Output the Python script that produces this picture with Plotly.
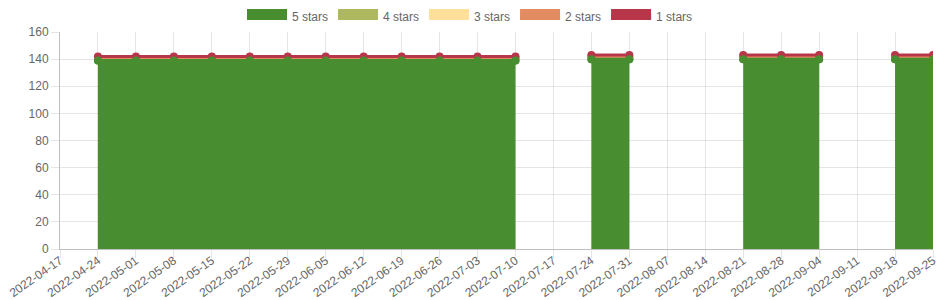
import plotly.graph_objects as go

dates = ["2022-04-17", "2022-04-24", "2022-05-01", "2022-05-08", "2022-05-15", "2022-05-22",
         "2022-05-29", "2022-06-05", "2022-06-12", "2022-06-19", "2022-06-26", "2022-07-03",
         "2022-07-10", "2022-07-17", "2022-07-24", "2022-07-31", "2022-08-07", "2022-08-14",
         "2022-08-21", "2022-08-28", "2022-09-04", "2022-09-11", "2022-09-18", "2022-09-25"]

N = None
stars5 = [N, 139, 139, 139, 139, 139, 139, 139, 139, 139, 139, 139, 139, N, 140, 140, N, N, 140, 140, 140, N, 140, 140]
stars4 = [N, 1, 1, 1, 1, 1, 1, 1, 1, 1, 1, 1, 1, N, 1, 1, N, N, 1, 1, 1, N, 1, 1]
stars3 = [N, 1, 1, 1, 1, 1, 1, 1, 1, 1, 1, 1, 1, N, 1, 1, N, N, 1, 1, 1, N, 1, 1]
stars2 = [N, 0, 0, 0, 0, 0, 0, 0, 0, 0, 0, 0, 0, N, 0, 0, N, N, 0, 0, 0, N, 0, 0]
stars1 = [N, 1, 1, 1, 1, 1, 1, 1, 1, 1, 1, 1, 1, N, 1, 1, N, N, 1, 1, 1, N, 1, 1]

series_names = ["5 stars", "4 stars", "3 stars", "2 stars", "1 stars"]
series_vals = [stars5, stars4, stars3, stars2, stars1]
colors = ["#498d31", "#adb85f", "#fee09b", "#e48c61", "#b8364a"]

# contiguous segments (index ranges) where data exists
segments = []
cur = []
for i, v in enumerate(stars5):
    if v is None:
        if cur:
            segments.append(cur)
            cur = []
    else:
        cur.append(i)
if cur:
    segments.append(cur)

fig = go.Figure()

# legend-only entries (box-like symbols)
for name, col in zip(series_names, colors):
    fig.add_trace(go.Scatter(
        x=[None], y=[None], name=name, legendgroup=name, showlegend=True,
        mode="lines", fill="tozeroy", fillcolor=col,
        line=dict(color=col, width=10), hoverinfo="skip",
    ))

for si, seg in enumerate(segments):
    for name, vals, col in zip(series_names, series_vals, colors):
        fig.add_trace(go.Scatter(
            x=[dates[i] for i in seg],
            y=[vals[i] for i in seg],
            name=name,
            legendgroup=name,
            showlegend=False,
            stackgroup=f"seg{si}",
            mode="lines+markers",
            line=dict(color=col, width=3),
            marker=dict(color=col, size=8),
            fillcolor=col,
            hoverinfo="skip",
        ))
    # first series drawn on top (as in the reference)
    fig.add_trace(go.Scatter(
        x=[dates[i] for i in seg],
        y=[stars5[i] for i in seg],
        name="5 stars", legendgroup="5 stars", showlegend=False,
        mode="lines+markers",
        line=dict(color=colors[0], width=3),
        marker=dict(color=colors[0], size=8),
        hoverinfo="skip",
    ))

font = dict(family="Liberation Sans, Arial, Helvetica, sans-serif", size=12, color="#666666")
fig.update_layout(
    width=940, height=300,
    margin=dict(l=60, r=7, t=32, b=51, pad=0, autoexpand=False),
    paper_bgcolor="white", plot_bgcolor="white",
    font=font,
    showlegend=True,
    legend=dict(orientation="h", x=0.5, xref="container", xanchor="center",
                y=0.995, yref="container", yanchor="top",
                traceorder="normal", font=font, itemwidth=40,
                bgcolor="rgba(0,0,0,0)"),
    xaxis=dict(type="category", categoryorder="array", categoryarray=dates,
               tickvals=dates, ticktext=dates, automargin=False,
               range=[0, len(dates) - 1], tickangle=-35,
               ticklabelstandoff=-9,
               showgrid=True, gridcolor="rgba(0,0,0,0.1)", gridwidth=1,
               ticks="outside", ticklen=8, tickcolor="rgba(0,0,0,0.1)",
               showline=True, linecolor="rgba(0,0,0,0.25)", linewidth=1,
               zeroline=False, tickfont=font),
    yaxis=dict(range=[0, 160], dtick=20, tick0=0, automargin=False,
               showgrid=True, gridcolor="rgba(0,0,0,0.1)", gridwidth=1,
               ticks="outside", ticklen=8, tickcolor="rgba(0,0,0,0.1)",
               showline=True, linecolor="rgba(0,0,0,0.25)", linewidth=1,
               zeroline=False, tickfont=font),
)

fig.write_html("out.html")
